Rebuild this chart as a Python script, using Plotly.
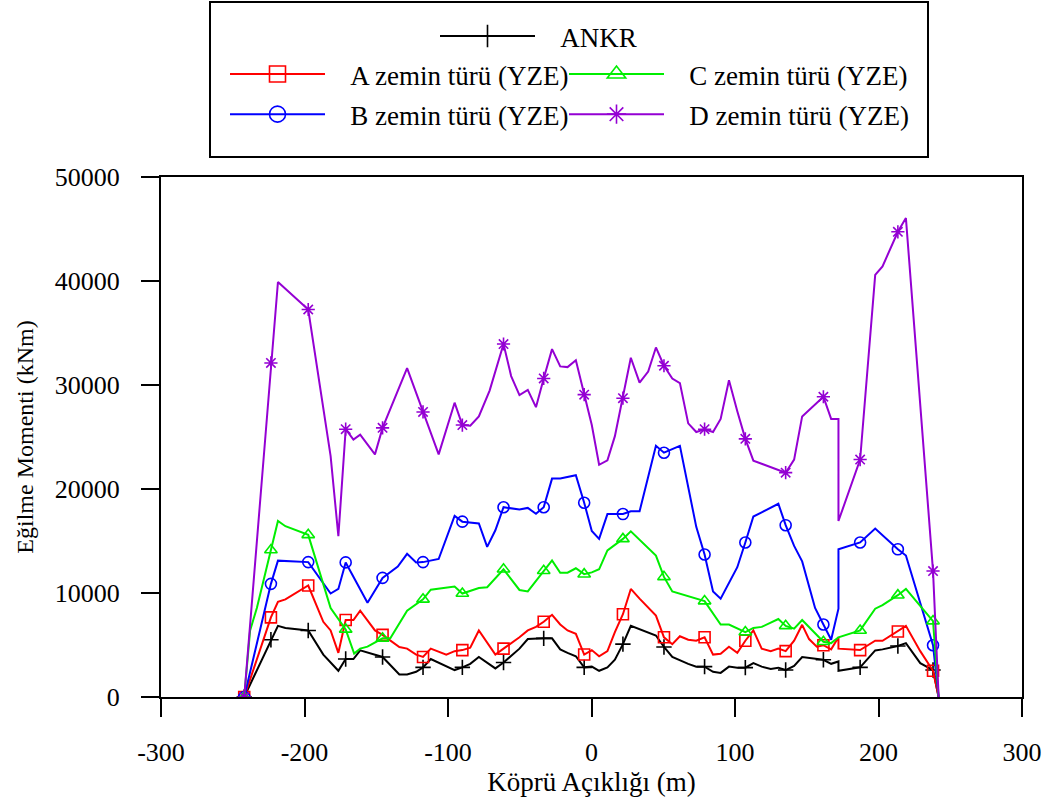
import plotly.graph_objects as go

# Bending moment envelopes along the bridge span (x in m, moment in kNm)
ankr_x = [-242, -223.4, -218.5, -213.3, -197.4, -186.9, -176.4, -171.3, -165.9, -161.2, -150.9, -145.6,
          -133.9, -128.5, -122.2, -117.4, -112, -95.4, -90, -84.5, -78.5, -67, -61.3, -50.2, -44.4, -38.7,
          -33.3, -27.5, -21.8, -16.7, -10.9, -5.1, 0.2, 5.3, 11.1, 16.3, 21.9, 27.4, 44.9, 50.5, 56.3, 67.4,
          73, 78.8, 84.7, 90, 95.8, 101.6, 107.2, 112.8, 118.6, 124.9, 130.2, 135.3, 141.2, 146.8, 161.6,
          167, 172.1, 172.1, 187.2, 197.7, 202.8, 213.5, 219.1, 229.1, 238, 241.9]
ankr_y = [0, 5510, 6840, 6640, 6400, 4080, 2520, 3650, 3650, 4480, 4080, 3850,
          2160, 2160, 2420, 2850, 3650, 2590, 2850, 3190, 3850, 2750, 3320, 4650, 5570, 5640,
          5640, 5640, 4580, 4250, 3920, 2850, 2920, 2520, 2850, 3580, 5080, 6840, 5910, 4810, 3850, 3190,
          2920, 2920, 2420, 2320, 2920, 2820, 2820, 3250, 2920, 2690, 2820, 2590, 2990, 3850, 3580,
          3190, 3420, 2520, 2850, 4480, 4580, 4910, 5180, 3250, 2590, 0]

a_x = [-242, -223.4, -218.5, -213.3, -197.4, -186.9, -181.8, -176.4, -171.3, -165.9, -161.2, -150.9,
       -145.6, -140.2, -133.9, -128.5, -122.2, -117.4, -112, -101.2, -95.4, -90, -84.5, -78.5, -67, -61.3,
       -50.2, -44.4, -38.7, -33.3, -27.5, -21.8, -16.7, -10.9, -5.1, 0.2, 5.3, 11.1, 16.3, 21.9, 27.4,
       33.5, 39.5, 44.9, 50.5, 56.3, 61.6, 67.4, 73, 78.8, 84.7, 90, 95.8, 101.6, 107.2, 112.8, 118.6,
       124.9, 130.2, 135.3, 141.2, 146.8, 151.6, 157, 161.6, 167, 172.1, 172.1, 187.2, 197.7, 202.8,
       213.5, 219.1, 229.1, 238, 241.9]
a_y = [0, 7660, 9160, 9390, 10720, 7230, 6400, 4250, 7400, 7400, 8300, 6400,
       5970, 5410, 4810, 4650, 4080, 3850, 4650, 4080, 4410, 4510, 4750, 6400, 4080, 4650,
       5740, 6400, 6740, 7230, 7900, 6970, 6400, 6070, 4080, 4510, 3920, 4410, 6240, 7960, 10390,
       9460, 8630, 7830, 5740, 5080, 5840, 5510, 5410, 5740, 4080, 4150, 4840, 4250, 5410, 6400, 4650,
       4410, 4650, 4410, 5410, 6940, 5570, 4840, 4980, 4580, 5740, 4650, 4510, 5410, 5410,
       6300, 6840, 4410, 2520, 0]

b_x = [-242, -223.4, -218.5, -197.4, -181.8, -176.4, -171.3, -156.1, -145.6, -135, -128.5, -122.2,
       -117.4, -106.5, -95.4, -90, -78.5, -72.7, -67, -61.3, -50.2, -44.4, -38.7, -33.3, -27.5, -21.8,
       -10.9, -5.1, 0.2, 5.3, 11.1, 21.9, 27.4, 33.5, 44.9, 50.5, 61.6, 73, 78.8, 84.7, 90, 101.6, 107.2,
       112.8, 118.6, 130.2, 135.3, 141.2, 146.8, 155.8, 161.6, 167, 172.1, 172.1, 187.2, 197.7, 213.5,
       219.1, 238, 241.9]
b_y = [0, 10880, 13110, 12970, 9950, 10390, 12940, 9060, 11450, 12540, 13770, 12940,
       12970, 13270, 17420, 16860, 16690, 14430, 16030, 18250, 18020, 18180, 17620, 18250, 21000, 21000,
       21330, 18680, 15960, 15200, 17590, 17590, 17850, 17850, 24150, 23490, 24150, 16360, 13700, 10150,
       9460, 12480, 14860, 17350, 17750, 18580, 16520, 14530, 13040, 8560, 6970, 5510, 8490, 14200, 14860,
       16190, 14200, 13600, 4980, 0]

c_x = [-242, -237.9, -233.2, -223.4, -218.5, -213.3, -197.4, -181.8, -171.3, -165.4, -161.2, -156.1,
       -145.6, -140.2, -128.5, -117.4, -112, -95.4, -90, -78.5, -72.7, -61.3, -50.2, -44.4, -33.3, -27.5,
       -21.8, -16.7, -10.9, -5.1, 0.2, 5.3, 11.1, 21.9, 27.4, 39.5, 44.9, 50.5, 56.3, 78.8, 90, 95.8,
       107.2, 112.8, 118.6, 130.2, 135.3, 141.2, 146.8, 161.6, 167, 172.1, 187.2, 197.7, 202.8, 213.5,
       219.1, 238, 241.9]
c_y = [0, 6400, 8560, 14130, 16920, 16420, 15590, 8560, 6500, 4180, 4650, 4840,
       5640, 5640, 8300, 9390, 10320, 10620, 9950, 10480, 10550, 12280, 10290, 10150, 12140, 13140,
       11950, 11950, 12380, 11810, 11980, 12280, 14100, 15200, 15930, 14270, 13600, 11550, 10150, 9220,
       6970, 6970, 6240, 6640, 6740, 7500, 6840, 6570, 7400, 5310, 5180, 5740, 6400, 8490, 8830, 9790,
       10390, 7300, 0]

d_x = [-242, -223.4, -218.5, -197.4, -181.8, -176.4, -171.3, -165.9, -161.2, -150.9, -145.6, -128.5,
       -117.4, -106.5, -95.4, -90, -84.5, -78.5, -71, -61.3, -56, -50.2, -44.4, -38.7, -33.3, -27.5,
       -21.8, -16.7, -10.9, -5.1, 0.2, 5.3, 11.1, 16.3, 21.9, 27.4, 33.5, 39.5, 44.9, 50.5, 56.3, 61.6,
       67.4, 73, 78.8, 84.7, 90, 95.8, 101.6, 107.2, 112.8, 135.3, 141.2, 146.8, 161.6, 167, 172.1,
       172.1, 187.2, 197.7, 202.8, 213.5, 219.1, 238, 241.9]
d_y = [0, 32120, 39900, 37260, 23160, 15460, 25750, 24750, 25220, 23330, 25880, 31620,
       27410, 23330, 28300, 26150, 26080, 26980, 29460, 33940, 30860, 29030, 29530, 27870, 30630, 33450,
       31790, 31720, 32380, 29070, 26150, 22330, 22760, 25080, 28730, 32620, 30230, 31290, 33610, 31850,
       30620, 30190, 26310, 25480, 25750, 25480, 26740, 30460, 27470, 24820, 22730, 21570, 22830, 26980,
       28870, 26740, 26740, 16920, 22830, 40580, 41410, 44730, 46050, 12110, 0]

# Stations where the symbols are drawn
marker_stations = [-242, -223.4, -197.4, -171.3, -145.6, -117.4, -90, -61.3, -33.3, -5.1, 21.9, 50.5,
                   78.8, 107.2, 135.3, 161.6, 187.2, 213.5, 238]

x_ticks = [-300, -200, -100, 0, 100, 200, 300]
y_ticks = [0, 10000, 20000, 30000, 40000, 50000]

FONT = "Liberation Serif"
PAD = "\u00a0\u00a0\u00a0"  # small gap between legend symbol and its label

series = [
    ("ANKR", ankr_x, ankr_y, "#000000", "cross-thin-open", "legend"),
    ("A zemin türü (YZE)", a_x, a_y, "#ff0000", "square-open", "legend2"),
    ("B zemin türü (YZE)", b_x, b_y, "#0000ff", "circle-open", "legend2"),
    ("C zemin türü (YZE)", c_x, c_y, "#00ee00", "triangle-up-open", "legend3"),
    ("D zemin türü (YZE)", d_x, d_y, "#9400d3", "asterisk-open", "legend3"),
]

fig = go.Figure()
for name, xs, ys, color, symbol, leg in series:
    # continuous line through every vertex
    fig.add_trace(go.Scatter(x=xs, y=ys, mode="lines", line=dict(color=color, width=2),
                             legendgroup=name, showlegend=False, hoverinfo="skip"))
    # symbols at the stations
    mx = [x for x in xs if x in marker_stations]
    my = [y for x, y in zip(xs, ys) if x in marker_stations]
    fig.add_trace(go.Scatter(x=mx, y=my, mode="markers", legendgroup=name, showlegend=False,
                             marker=dict(symbol=symbol, size=11, color=color,
                                         line=dict(color=color, width=1.6))))
    # legend entry
    fig.add_trace(go.Scatter(x=[None], y=[None], mode="lines+markers", name=PAD + name, legend=leg,
                             legendgroup=name, line=dict(color=color, width=2),
                             marker=dict(symbol=symbol, size=18, color=color,
                                         line=dict(color=color, width=1.6))))

axis_common = dict(showgrid=False, zeroline=False, showline=True, linecolor="black", linewidth=2,
                   mirror=True, ticks="outside", ticklen=18, tickwidth=2, tickcolor="black",
                   tickfont=dict(family=FONT, size=26, color="black"))

fig.update_xaxes(range=[-300, 300], tickvals=x_ticks, ticktext=[str(v) for v in x_ticks],
                 ticklabelstandoff=13,
                 title=dict(text="Köprü Açıklığı (m)", font=dict(family=FONT, size=27, color="black"),
                            standoff=0),
                 **axis_common)
fig.update_yaxes(range=[0, 50000], tickvals=y_ticks, ticktext=[str(v) for v in y_ticks],
                 ticklabelstandoff=16,
                 title=dict(text="Eğilme Momenti (kNm)", font=dict(family=FONT, size=24, color="black"),
                            standoff=14),
                 **axis_common)

leg_common = dict(font=dict(family=FONT, size=27, color="black"), bgcolor="rgba(0,0,0,0)",
                  borderwidth=0, itemwidth=95, orientation="v", xanchor="left", yanchor="top",
                  tracegroupgap=2, itemclick=False, itemdoubleclick=False)

fig.update_layout(
    width=1058, height=802,
    margin=dict(l=161, r=36, t=177, b=105),
    paper_bgcolor="white", plot_bgcolor="white",
    legend=dict(x=(435 - 161) / 861, y=(697 - 12) / 520, **leg_common),
    legend2=dict(x=(225 - 161) / 861, y=(697 - 50) / 520, **leg_common),
    legend3=dict(x=(564 - 161) / 861, y=(697 - 50) / 520, **leg_common),
    shapes=[dict(type="rect", xref="paper", yref="paper",
                 x0=(210 - 161) / 861, x1=(928 - 161) / 861,
                 y0=(697 - 157) / 520, y1=(697 - 2) / 520,
                 line=dict(color="black", width=2))],
    showlegend=True,
)

fig.write_html("out.html")
